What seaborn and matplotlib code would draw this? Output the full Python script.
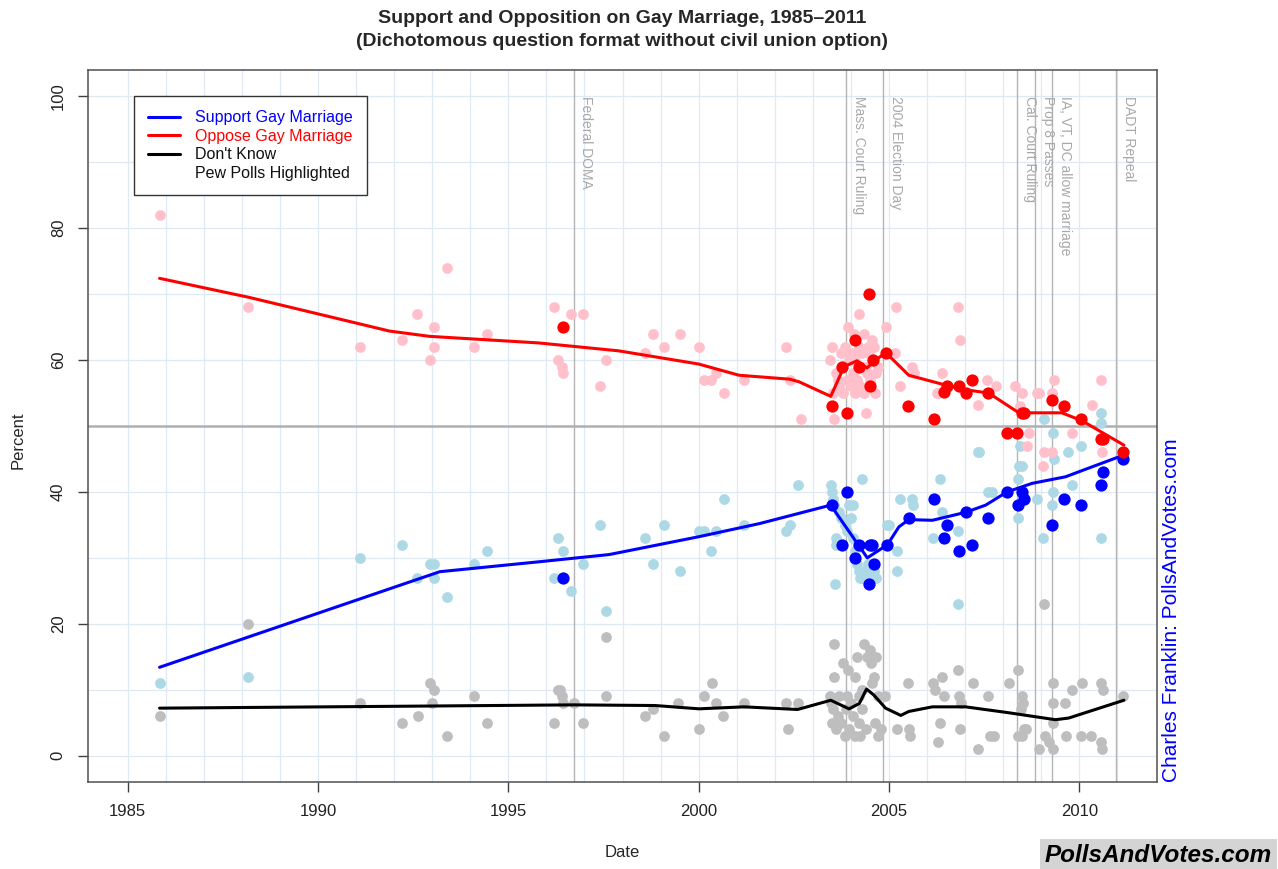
import matplotlib
matplotlib.use('Agg')
import matplotlib.pyplot as plt
import seaborn as sns

# ---- trend lines ----
support_line_year = [1985.84, 1993.2, 1995.8, 1997.65, 2000.0, 2001.6, 2003.47, 2004.43, 2004.96,
                     2005.26, 2005.52, 2006.14, 2007.01, 2007.54, 2008.1, 2008.76, 2009.64, 2010.1, 2011.17]
support_line_pct = [13.4, 27.9, 29.4, 30.5, 33.2, 35.2, 38.0, 30.0, 32.0,
                    34.7, 35.8, 35.7, 36.9, 38.0, 40.0, 41.3, 42.3, 43.3, 45.6]

oppose_line_year = [1985.84, 1988.2, 1991.88, 1992.93, 1995.8, 1997.9, 2000.0, 2001.06, 2002.4, 2002.64,
                    2003.47, 2003.82, 2004.16, 2004.42, 2004.69, 2004.92, 2005.52, 2006.49, 2007.01,
                    2007.62, 2008.41, 2008.75, 2009.54, 2010.07, 2011.17]
oppose_line_pct = [72.4, 69.5, 64.4, 63.6, 62.6, 61.4, 59.4, 57.7, 57.1, 56.7,
                   54.5, 59.0, 59.9, 58.8, 60.2, 61.1, 57.7, 56.2, 55.5,
                   55.0, 52.0, 52.0, 52.0, 50.8, 47.1]

dk_line_year = [1985.84, 1996.73, 1998.86, 2000.01, 2001.19, 2002.6, 2003.47, 2003.95, 2004.22, 2004.41,
                2004.6, 2004.91, 2005.31, 2005.52, 2006.14, 2007.01, 2008.15, 2009.37, 2009.72, 2011.17]
dk_line_pct = [7.2, 7.7, 7.6, 7.1, 7.4, 7.0, 8.4, 7.1, 7.9, 10.1,
               9.2, 7.2, 6.1, 6.7, 7.4, 7.4, 6.5, 5.45, 5.7, 8.4]

# ---- individual polls ----
support_year = [1985.84, 1988.15, 1991.1, 1992.2, 1992.6, 1992.95, 1993.05, 1993.05, 1993.4, 1994.1,
                1994.45, 1996.2, 1996.3, 1996.45, 1996.65, 1996.95, 1997.4, 1997.56, 1998.6, 1998.8,
                1999.1, 1999.5, 2000.0, 2000.15, 2000.33, 2000.45, 2000.67, 2001.2, 2002.3, 2002.4,
                2002.6, 2003.48, 2003.5, 2003.52, 2003.55, 2003.57, 2003.6, 2003.62, 2003.7, 2003.75,
                2003.85, 2003.9, 2003.95, 2004.0, 2004.05, 2004.1, 2004.15, 2004.2, 2004.25, 2004.3,
                2004.35, 2004.4, 2004.45, 2004.5, 2004.55, 2004.6, 2004.65, 2004.3, 2004.05, 2004.95,
                2005.0, 2005.2, 2005.22, 2005.3, 2005.6, 2005.62, 2006.15, 2006.4, 2006.35, 2006.82,
                2006.82, 2007.36, 2007.6, 2007.7, 2008.4, 2008.4, 2008.42, 2008.9, 2009.05, 2009.3,
                2009.28, 2009.07, 2009.3, 2009.33, 2009.7, 2009.8, 2010.05, 2010.58, 2010.58, 2010.57,
                2007.34, 2008.45, 2008.5]
support_pct = [11, 12, 30, 32, 27, 29, 29, 27, 24, 29,
               31, 27, 33, 31, 25, 29, 35, 22, 33, 29,
               35, 28, 34, 34, 31, 34, 39, 35, 34, 35,
               41, 41, 40, 39, 38, 26, 33, 32, 37, 36,
               35, 34, 38, 36, 33, 31, 29, 28, 27, 27,
               28, 27, 29, 27, 27, 28, 27, 42, 38, 35,
               35, 31, 28, 39, 39, 38, 33, 37, 42, 34,
               23, 46, 40, 40, 36, 42, 44, 39, 33, 40,
               38, 51, 49, 45, 46, 41, 47, 52, 50.5, 33,
               46, 47, 44]

oppose_year = [1985.84, 1988.15, 1991.1, 1992.2, 1992.6, 1992.95, 1993.05, 1993.05, 1993.4, 1994.1,
               1994.45, 1996.2, 1996.3, 1996.4, 1996.45, 1996.65, 1996.95, 1997.4, 1997.56, 1998.6,
               1998.8, 1999.1, 1999.5, 2000.0, 2000.15, 2000.33, 2000.45, 2000.67, 2001.2, 2002.3,
               2002.4, 2002.68, 2003.45, 2003.5, 2003.52, 2003.55, 2003.6, 2003.65, 2003.7, 2003.75,
               2003.8, 2003.85, 2003.9, 2003.92, 2003.95, 2004.0, 2004.02, 2004.05, 2004.08, 2004.1,
               2004.12, 2004.15, 2004.2, 2004.21, 2004.25, 2004.3, 2004.34, 2004.35, 2004.4, 2004.42,
               2004.45, 2004.5, 2004.55, 2004.6, 2004.62, 2004.65, 2004.7, 2004.39, 2004.45, 2004.93,
               2005.19, 2005.17, 2005.3, 2005.61, 2005.65, 2006.4, 2006.25, 2006.3, 2006.82, 2006.86,
               2007.34, 2007.58, 2007.8, 2008.32, 2008.5, 2008.45, 2008.67, 2008.62, 2008.9, 2008.95,
               2009.07, 2009.29, 2009.05, 2009.33, 2009.29, 2009.81, 2010.34, 2010.57, 2010.6]
oppose_pct = [82, 68, 62, 63, 67, 60, 65, 62, 74, 62,
              64, 68, 60, 59, 58, 67, 67, 56, 60, 61,
              64, 62, 64, 62, 57, 57, 58, 55, 57, 62,
              57, 51, 60, 62, 55, 51, 58, 57, 56, 61,
              55, 62, 57, 65, 60, 56, 61, 58, 64, 55,
              60, 57, 62, 67, 56, 61, 64, 55, 59, 58,
              62, 57, 63, 62, 55, 58, 59, 52, 61, 65,
              68, 61, 56, 59, 58, 58, 55, 55, 68, 63,
              53.2, 57, 56, 56, 55, 53, 48.9, 47, 55, 55,
              46, 46, 44, 57, 55, 48.9, 53.2, 57, 46]

dk_year = [1985.84, 1988.15, 1991.1, 1992.2, 1992.64, 1992.95, 1993.05, 1993.0, 1993.4, 1994.1,
           1994.45, 1996.2, 1996.3, 1996.4, 1996.35, 1996.45, 1996.73, 1996.95, 1997.56, 1997.56,
           1998.6, 1998.8, 1999.08, 1999.45, 2000.0, 2000.15, 2000.35, 2000.45, 2000.65, 2001.2,
           2002.3, 2002.34, 2002.6, 2003.45, 2003.48, 2003.5, 2003.52, 2003.56, 2003.55, 2003.6,
           2003.65, 2003.7, 2003.75, 2003.8, 2003.85, 2003.88, 2003.9, 2003.92, 2003.95, 2004.0,
           2004.05, 2004.1, 2004.12, 2004.15, 2004.2, 2004.22, 2004.25, 2004.3, 2004.35, 2004.4,
           2004.42, 2004.5, 2004.52, 2004.55, 2004.6, 2004.62, 2004.65, 2004.7, 2004.72, 2004.28,
           2004.8, 2004.9, 2005.2, 2005.5, 2005.52, 2005.55, 2006.15, 2006.2, 2006.4, 2006.45,
           2006.35, 2006.3, 2006.82, 2006.85, 2006.9, 2006.86, 2007.2, 2007.35, 2007.6, 2007.65,
           2007.75, 2008.15, 2008.4, 2008.5, 2008.52, 2008.48, 2008.55, 2008.4, 2008.5, 2008.6,
           2008.95, 2009.06, 2009.1, 2009.2, 2009.3, 2009.3, 2009.3, 2009.3, 2009.62, 2009.66,
           2009.8, 2010.08, 2010.05, 2010.3, 2010.58, 2010.62, 2010.58, 2010.6, 2011.14]
dk_pct = [6, 20, 8, 5, 6, 11, 10, 8, 3, 9,
          5, 5, 10, 9, 10, 8, 8, 5, 9, 18,
          6, 7, 3, 8, 4, 9, 11, 8, 6, 8,
          8, 4, 8, 9, 8, 5, 7, 17, 12, 4,
          6, 9, 5, 14, 3, 7, 9, 13, 4, 8,
          6, 3, 12, 15, 5, 9, 3, 7, 17, 4,
          15, 16, 14, 11, 12, 5, 15, 3, 9, 10,
          4, 9, 4, 11, 4, 3, 11, 10, 12, 9,
          5, 2, 13, 9, 8, 4, 11, 1, 9, 3,
          3, 11, 13, 9, 8, 7, 4, 3, 3, 4,
          1, 23, 3, 2, 11, 8, 5, 1, 8, 3,
          10, 11, 3, 3, 11, 10, 2, 1, 9]

pew_year = [1996.45, 2003.49, 2003.77, 2003.91, 2004.11, 2004.2, 2004.48, 2004.5, 2004.59, 2004.93,
            2005.5, 2006.18, 2006.44, 2006.53, 2006.84, 2007.01, 2007.19, 2007.61, 2008.1, 2008.37,
            2008.5, 2008.55, 2009.29, 2009.6, 2010.05, 2010.58, 2010.62, 2011.14]
pew_oppose = [65, 53, 59, 52, 63, 59, 70, 56, 60, 61,
              53, 51, 55.2, 56, 56, 55, 57, 55, 49, 49,
              52, 52, 54, 53, 51, 48, 48, 46]
pew_support_year = [1996.45, 2003.49, 2003.91, 2003.77, 2004.11, 2004.21, 2004.5, 2004.55, 2004.6, 2004.48,
                    2004.94, 2005.52, 2006.18, 2006.53, 2006.44, 2006.84, 2007.01, 2007.19, 2007.61, 2008.1,
                    2008.38, 2008.5, 2008.55, 2009.29, 2009.6, 2010.05, 2010.58, 2010.62, 2011.14]
pew_support = [27, 38, 40, 32, 30, 32, 32, 32, 29, 26,
               32, 36, 39, 35, 33, 31, 37, 32, 36, 40,
               38, 40, 39, 35, 39, 38, 41, 43, 45]

events = ["Federal DOMA", "Mass. Court Ruling", "2004 Election Day", "Cal. Court Ruling",
          "Prop 8 Passes", "IA, VT, DC allow marriage", "DADT Repeal"]
event_year = [1996.72, 2003.87, 2004.84, 2008.37, 2008.84, 2009.28, 2010.97]

sns.set_style("white")
plt.rcParams['font.family'] = ['Liberation Sans', 'DejaVu Sans']

fig = plt.figure(figsize=(12.78, 8.69), dpi=100)
ax = fig.add_axes([88/1278, 1 - 782/869, (1157 - 88)/1278, (782 - 70)/869])

# grid: every year / every 10 percent
for yr in range(1985, 2012):
    ax.axvline(yr, color='#dfe9f4', lw=0.9, zorder=0)
for p in range(0, 101, 10):
    ax.axhline(p, color='#dfe9f4', lw=0.9, zorder=0)
for ey in event_year:
    ax.axvline(ey, color='#b4b4b4', lw=1.0, zorder=0.5)
ax.axhline(50, color='#b0b0b0', lw=1.8, zorder=0.6)

for ey, lab in zip(event_year, events):
    ax.text(ey + 0.15, 100, lab, rotation=270, ha='left', va='top', fontsize=10, color='#a8a8a8')

# ordinary polls
sns.scatterplot(x=dk_year, y=dk_pct, color='#bebebe', s=60, linewidth=0, ax=ax, zorder=2)
sns.scatterplot(x=support_year, y=support_pct, color='#add8e6', s=60, linewidth=0, ax=ax, zorder=2)
sns.scatterplot(x=oppose_year, y=oppose_pct, color='#ffc0cb', s=60, linewidth=0, ax=ax, zorder=2)

# trend lines
sns.lineplot(x=support_line_year, y=support_line_pct, color='blue', lw=2.2, sort=False, estimator=None, ax=ax, zorder=3)
sns.lineplot(x=oppose_line_year, y=oppose_line_pct, color='red', lw=2.2, sort=False, estimator=None, ax=ax, zorder=3)
sns.lineplot(x=dk_line_year, y=dk_line_pct, color='black', lw=2.2, sort=False, estimator=None, ax=ax, zorder=3)

# Pew polls highlighted
sns.scatterplot(x=pew_support_year, y=pew_support, color='blue', s=78, linewidth=0, ax=ax, zorder=4)
sns.scatterplot(x=pew_year, y=pew_oppose, color='red', s=78, linewidth=0, ax=ax, zorder=4)

ax.set_xlim(1983.96, 2012.04)
ax.set_ylim(-4, 104)
ax.set_xticks(range(1985, 2011, 5))
ax.set_yticks(range(0, 101, 20))
ax.tick_params(axis='both', direction='out', length=7, width=1, color='#404040',
               labelsize=12, labelcolor='#222222', pad=9, bottom=True, left=True)
for t in ax.get_yticklabels():
    t.set_rotation(90)
    t.set_va('center')
for sp in ax.spines.values():
    sp.set_color('#505050')
    sp.set_linewidth(1.1)

ax.set_xlabel('Date', fontsize=12)
ax.set_ylabel('Percent', fontsize=12)
ax.xaxis.set_label_coords(0.5, -(845 - 782)/712)
ax.yaxis.set_label_coords(-(88 - 26)/1069, (782 - 440)/712)

# legend
handles = [plt.Line2D([], [], color='blue', lw=2.2), plt.Line2D([], [], color='red', lw=2.2),
           plt.Line2D([], [], color='black', lw=2.2), plt.Line2D([], [], color='none')]
labels = ['Support Gay Marriage', 'Oppose Gay Marriage', "Don't Know", 'Pew Polls Highlighted']
leg = ax.legend(handles, labels, loc='upper left', bbox_to_anchor=((134 - 88)/1069, (782 - 96)/712),
                borderaxespad=0, fontsize=11.5, frameon=True, fancybox=False, edgecolor='#333333',
                framealpha=1, handlelength=2.0, handletextpad=0.9, labelspacing=0.22, borderpad=0.9)
leg.get_frame().set_linewidth(1.0)
for txt, c in zip(leg.get_texts(), ['blue', 'red', '#111111', '#111111']):
    txt.set_color(c)

fig.text(622.5/1278, 1 - 30/869,
         'Support and Opposition on Gay Marriage, 1985\u20132011\n(Dichotomous question format without civil union option)',
         ha='center', va='center', fontsize=14, fontweight='bold', linespacing=1.5)

ax.text(1.0047, 0, 'Charles Franklin: PollsAndVotes.com', transform=ax.transAxes, rotation=90,
        ha='left', va='bottom', fontsize=15, color='blue')

fig.text(1045/1278, 1 - 855/869, 'PollsAndVotes.com', ha='left', va='center', fontsize=17.5,
         fontweight='bold', fontstyle='italic', color='black',
         bbox=dict(boxstyle='square,pad=0.2', facecolor='#d4d4d4', edgecolor='none'))

fig.savefig('out.png', dpi=100)
